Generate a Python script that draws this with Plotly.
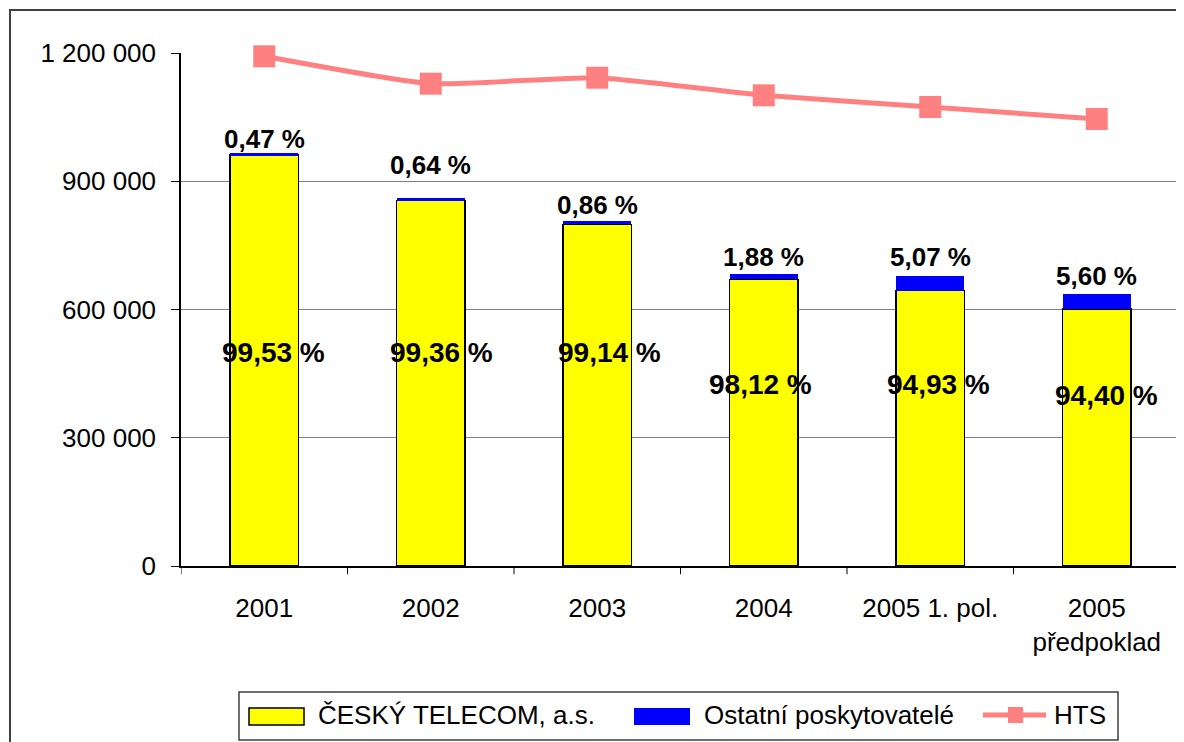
import plotly.graph_objects as go

# data
categories = ['2001', '2002', '2003', '2004', '2005 1. pol.', '2005<br>předpoklad']
cesky_telecom = [960900, 854600, 799400, 670200, 644000, 600700]
ostatni = [4500, 5500, 6900, 12800, 34400, 35600]
hts = [1192300, 1128200, 1142200, 1101000, 1073700, 1045600]
pct_ct = ['99,53 %', '99,36 %', '99,14 %', '98,12 %', '94,93 %', '94,40 %']
pct_ostatni = ['0,47 %', '0,64 %', '0,86 %', '1,88 %', '5,07 %', '5,60 %']
y_ticks = [0, 300000, 600000, 900000, 1200000]
names = ['ČESKÝ TELECOM, a.s.', 'Ostatní poskytovatelé', 'HTS']

FONT = 'Liberation Sans, Arial, sans-serif'
YELLOW, BLUE, PINK = '#FFFF00', '#0000FF', '#FF8080'
pos = list(range(len(categories)))


# page pixel -> paper coords (plot area spans x 181..1180, y 53..566 on the page)
def px(x):
    return (x - 181) / 999


def py(y):
    return (566 - y) / 513


fig = go.Figure()

fig.add_trace(go.Bar(
    x=pos, y=cesky_telecom, name=names[0], showlegend=False,
    marker=dict(color=YELLOW, line=dict(color='black', width=1.5)),
))
fig.add_trace(go.Bar(
    x=pos, y=ostatni, name=names[1], showlegend=False,
    marker=dict(color=BLUE, line=dict(color=BLUE, width=0)),
))
fig.add_trace(go.Scatter(
    x=pos, y=hts, name=names[2], mode='lines+markers', showlegend=False,
    line=dict(color=PINK, width=5, shape='spline', smoothing=0.5),
    marker=dict(symbol='square', size=22, color=PINK),
    cliponaxis=False,
))

# percentage labels
inner_y = [500000, 500000, 500000, 425000, 425000, 400000]
inner_dx = [9, 11, 12, -3, 8, 10]
top_dy = [1, 20, 3, 4, 6, 5]
for i in pos:
    fig.add_annotation(x=i, y=inner_y[i], text='<b>' + pct_ct[i] + '</b>',
                       showarrow=False, xshift=inner_dx[i],
                       font=dict(family=FONT, size=28, color='black'))
    total = cesky_telecom[i] + ostatni[i]
    fig.add_annotation(x=i, y=total, text='<b>' + pct_ostatni[i] + '</b>',
                       showarrow=False, yanchor='bottom', yshift=top_dy[i] - 4,
                       font=dict(family=FONT, size=26, color='black'))

# category separators (ticks between categories)
for b in range(len(categories) + 1):
    fig.add_shape(type='line', xref='x', yref='paper', x0=b - 0.5, x1=b - 0.5,
                  y0=0, y1=-0.016, line=dict(color='black', width=1))

# right border of the plot area and outer frame
fig.add_shape(type='line', xref='paper', yref='paper', x0=1, x1=1, y0=0, y1=1,
              line=dict(color='#808080', width=2))
fig.add_shape(type='rect', xref='paper', yref='paper',
              x0=px(10), x1=px(1190), y0=py(750), y1=py(10),
              line=dict(color='#404040', width=2))

# legend drawn by hand (Excel style wide swatches)
fig.add_shape(type='rect', xref='paper', yref='paper',
              x0=px(239), x1=px(1118), y0=py(740), y1=py(692),
              line=dict(color='#404040', width=1.5), fillcolor='white')
fig.add_shape(type='rect', xref='paper', yref='paper',
              x0=px(249), x1=px(304), y0=py(725), y1=py(708),
              line=dict(color='black', width=1.5), fillcolor=YELLOW)
fig.add_shape(type='rect', xref='paper', yref='paper',
              x0=px(634), x1=px(690), y0=py(725), y1=py(708),
              line=dict(width=0), fillcolor=BLUE)
fig.add_shape(type='line', xref='paper', yref='paper',
              x0=px(983), x1=px(1046), y0=py(715), y1=py(715),
              line=dict(color=PINK, width=5))
fig.add_shape(type='rect', xref='paper', yref='paper',
              x0=px(1008), x1=px(1023), y0=py(723), y1=py(707),
              line=dict(width=0), fillcolor=PINK)
for name, x0 in zip(names, [316, 702, 1052]):
    fig.add_annotation(xref='paper', yref='paper', x=px(x0), y=py(715),
                       xanchor='left', yanchor='middle', showarrow=False,
                       text=name, font=dict(family=FONT, size=26, color='black'))

# page has an 8px body margin, so the figure is 8px smaller and shifted
fig.update_layout(
    width=1176, height=734,
    margin=dict(l=173, r=4, t=45, b=176, autoexpand=False),
    paper_bgcolor='white', plot_bgcolor='white',
    barmode='stack', bargap=0.59,
    font=dict(family=FONT, size=26, color='black'),
    showlegend=False,
    xaxis=dict(range=[-0.5, len(categories) - 0.5], tickvals=pos, ticktext=categories,
               showline=True, linecolor='black', linewidth=1.5,
               ticks='', showgrid=False, zeroline=False, tickfont=dict(size=26),
               ticklabelstandoff=18),
    yaxis=dict(range=[0, 1200000], tickvals=y_ticks,
               ticktext=[f'{v:,}'.replace(',', ' ') for v in y_ticks],
               showline=True, linecolor='black', linewidth=1.5,
               ticks='outside', ticklen=8, tickcolor='black',
               showgrid=True, gridcolor='#808080', gridwidth=1,
               ticklabelstandoff=10, tickfont=dict(size=26), zeroline=False),
)

fig.write_html('out.html')
